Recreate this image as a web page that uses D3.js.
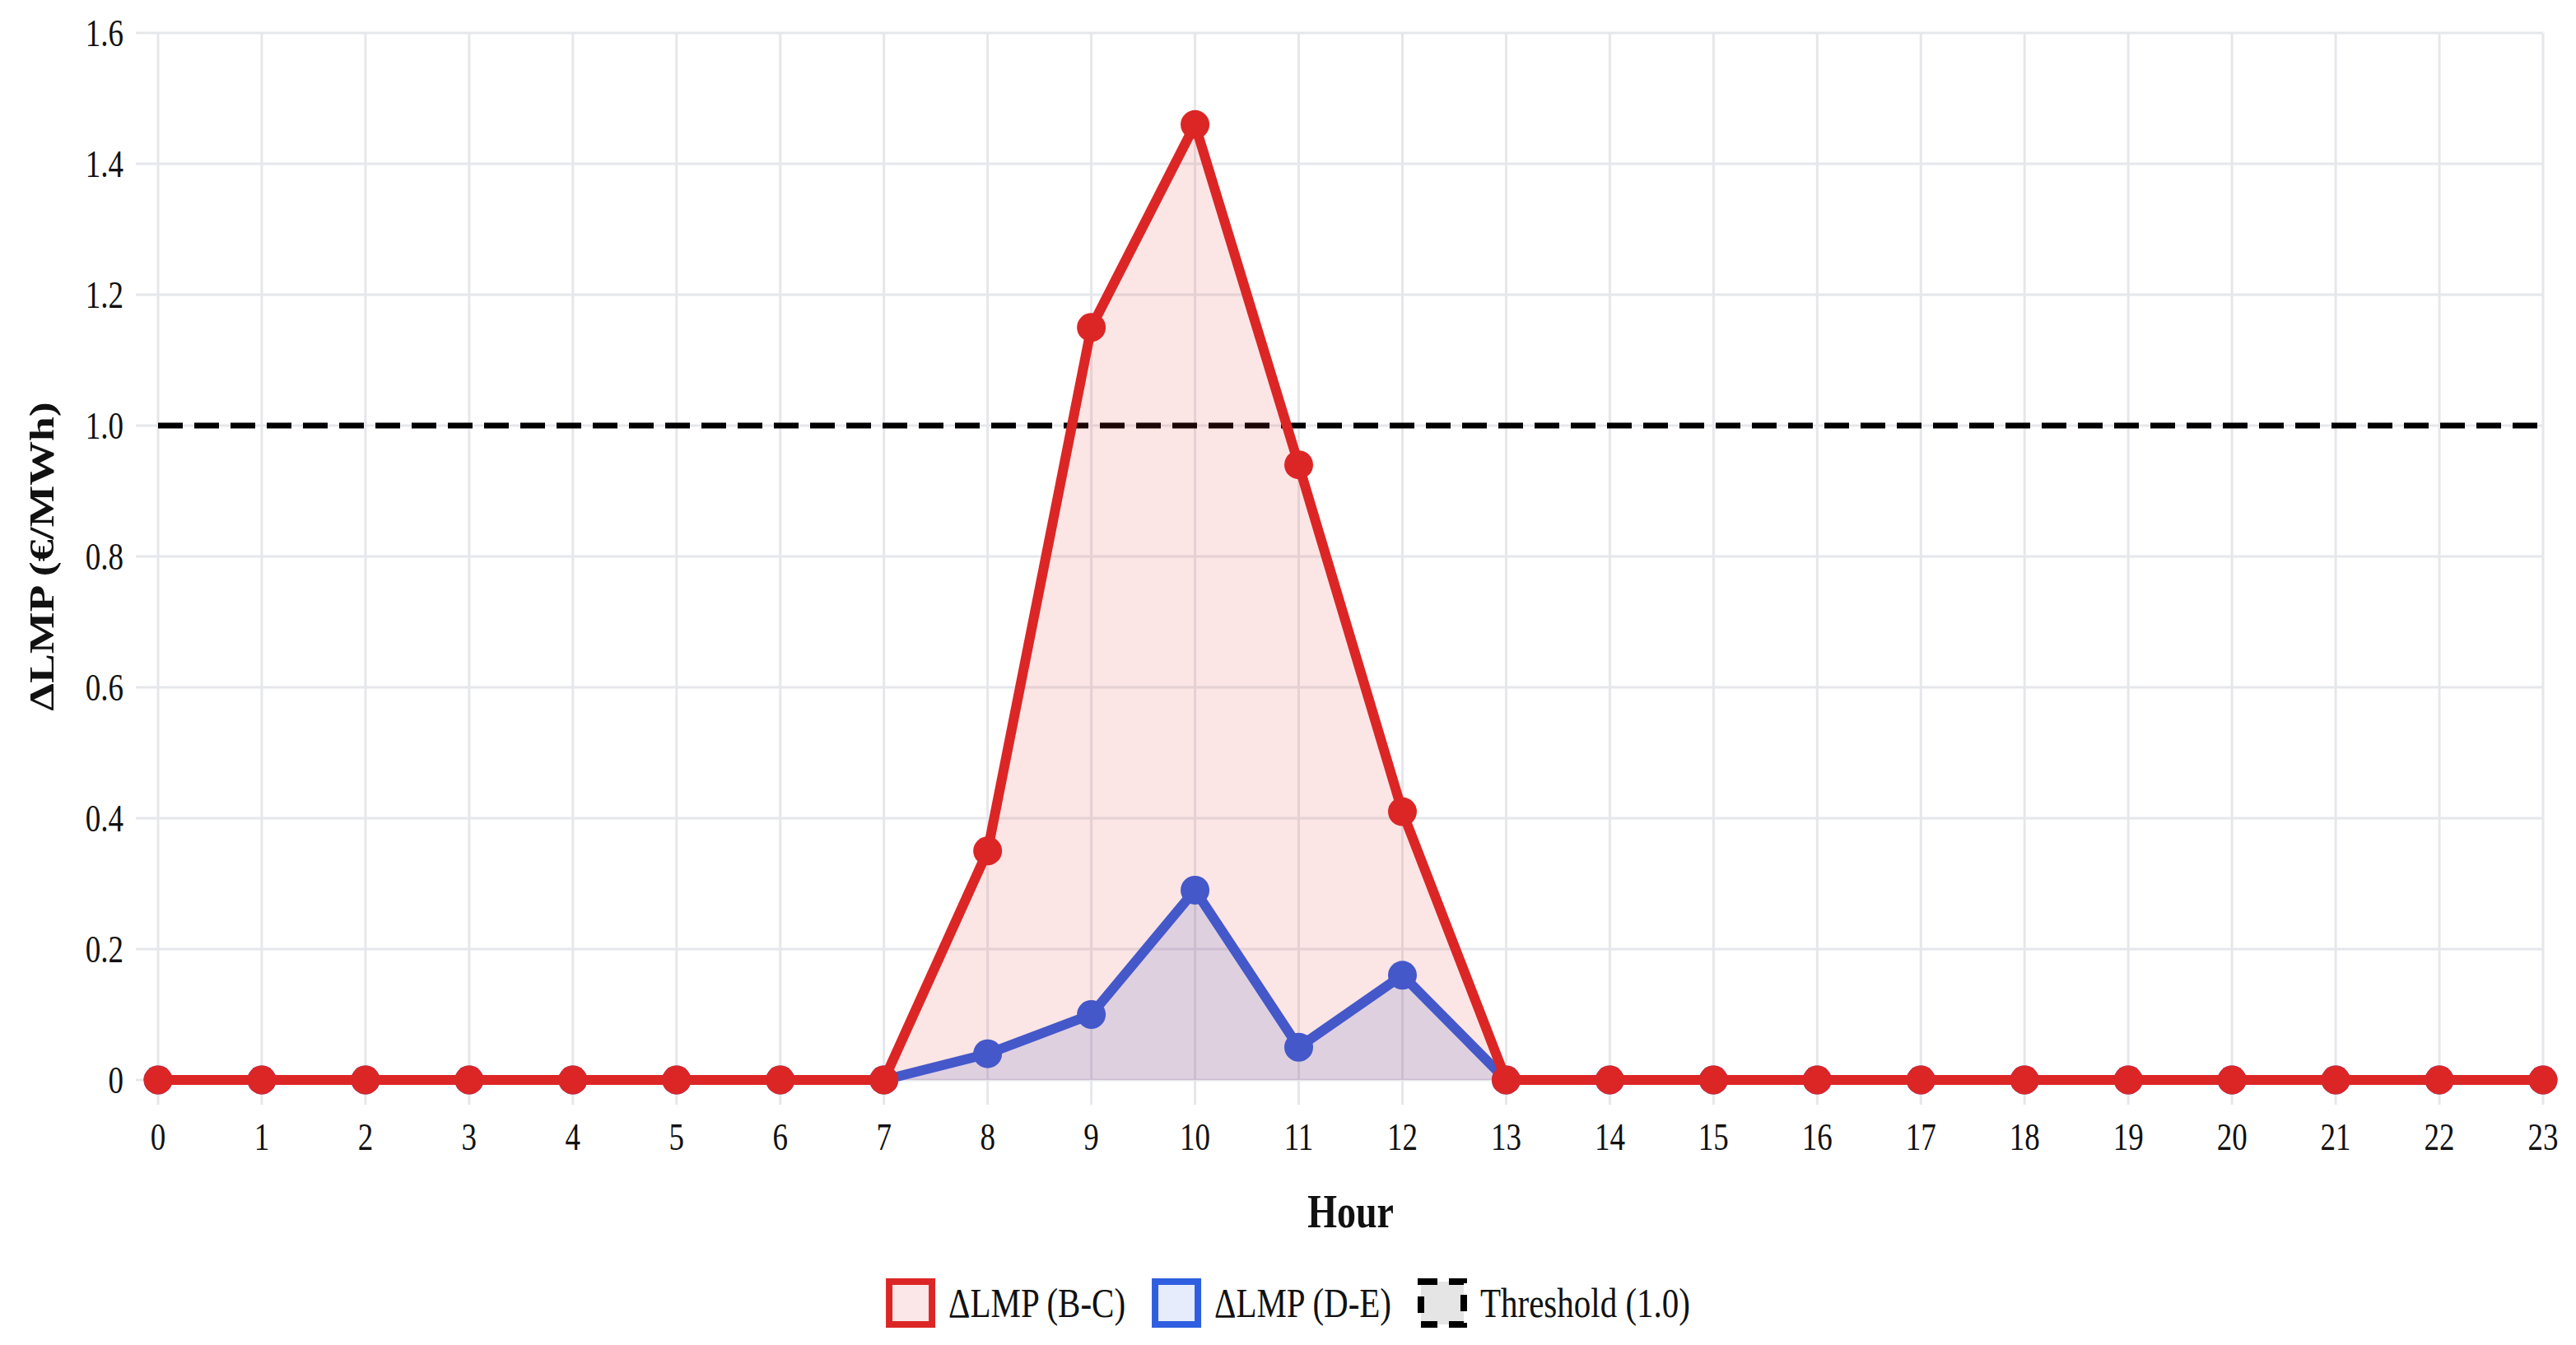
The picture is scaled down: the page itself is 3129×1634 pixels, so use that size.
<!DOCTYPE html>
<html><head><meta charset="utf-8">
<script src="https://cdn.jsdelivr.net/npm/d3@7"></script>
<style>
html,body{margin:0;padding:0;background:#fff;}
svg{display:block;}
text{font-family:"Liberation Serif","Times New Roman",serif;fill:#111;}
</style></head>
<body>
<svg id="chart" width="3129" height="1634"></svg>
<script>
const hours = [0,1,2,3,4,5,6,7,8,9,10,11,12,13,14,15,16,17,18,19,20,21,22,23];
const lmpBC = [0,0,0,0,0,0,0,0,0.35,1.15,1.46,0.94,0.41,0,0,0,0,0,0,0,0,0,0,0];
const lmpDE = [0,0,0,0,0,0,0,0,0.04,0.10,0.29,0.05,0.16,0,0,0,0,0,0,0,0,0,0,0];
const thresholdValue = 1.0;
const yTicks = [0,0.2,0.4,0.6,0.8,1.0,1.2,1.4,1.6];
const yTickLabels = ["0","0.2","0.4","0.6","0.8","1.0","1.2","1.4","1.6"];
const seriesNames = ["\u0394LMP (B-C)","\u0394LMP (D-E)","Threshold (1.0)"];
const xTitle = "Hour";
const yTitle = "\u0394LMP (\u20AC/MWh)";

const W = 3129, H = 1634;
const SY = 1.25; // vertical stretch of text
const m = {left:192, right:W-3089, top:40, bottom:H-1312};
const svg = d3.select("#chart");
const x = d3.scaleLinear().domain([0,23]).range([m.left, W-m.right]);
const y = d3.scaleLinear().domain([0,1.6]).range([H-m.bottom, m.top]);

const red = "#dc2626", blue = "#2f5fe0";
const grid = "#e6e7eb";

// grid
const g = svg.append("g");
g.selectAll("line.h").data(yTicks).join("line")
  .attr("x1", m.left-27).attr("x2", W-m.right)
  .attr("y1", d=>y(d)).attr("y2", d=>y(d))
  .attr("stroke", grid).attr("stroke-width", 3);
g.selectAll("line.v").data(hours).join("line")
  .attr("x1", d=>x(d)).attr("x2", d=>x(d))
  .attr("y1", m.top).attr("y2", H-m.bottom+30)
  .attr("stroke", grid).attr("stroke-width", 3);

// tick labels
svg.append("g").selectAll("text").data(yTicks).join("text")
  .attr("transform", d=>`translate(${m.left-42},${y(d)}) scale(1,${SY})`)
  .attr("text-anchor","end").attr("dy","0.34em")
  .style("font-size","37px")
  .text((d,i)=>yTickLabels[i]);
svg.append("g").selectAll("text").data(hours).join("text")
  .attr("transform", d=>`translate(${x(d)},${H-m.bottom+69}) scale(1,${SY})`)
  .attr("text-anchor","middle").attr("dy","0.34em")
  .style("font-size","37px")
  .text(d=>d);

// titles
svg.append("text")
  .attr("transform", `translate(${(m.left+W-m.right)/2},${1471}) scale(1,${SY})`)
  .attr("text-anchor","middle").attr("dy","0.34em")
  .style("font-size","46px").style("font-weight","bold")
  .text(xTitle);
svg.append("text")
  .attr("transform", `translate(50,${(m.top+H-m.bottom)/2}) scale(1,${SY}) rotate(-90)`)
  .attr("text-anchor","middle").attr("dy","0.34em")
  .style("font-size","43px").style("font-weight","bold")
  .text(yTitle);

// threshold
svg.append("line")
  .attr("x1", x(0)).attr("x2", x(23))
  .attr("y1", y(thresholdValue)).attr("y2", y(thresholdValue))
  .attr("stroke","#000").attr("stroke-width",7)
  .attr("stroke-dasharray","30,14");

const area = d3.area().x((d,i)=>x(hours[i])).y0(y(0)).y1(d=>y(d));
const line = d3.line().x((d,i)=>x(hours[i])).y(d=>y(d));

function drawSeries(vals, color, fill) {
  svg.append("path").attr("d", area(vals)).attr("fill", fill);
  svg.append("path").attr("d", line(vals)).attr("fill","none")
    .attr("stroke", color).attr("stroke-width", 12).attr("stroke-linejoin","round");
  svg.append("g").selectAll("circle").data(vals).join("circle")
    .attr("cx",(d,i)=>x(hours[i])).attr("cy", d=>y(d)).attr("r",17.5)
    .attr("fill", color);
}
drawSeries(lmpDE, blue, "rgba(47,95,224,0.15)");
drawSeries(lmpBC, red, "rgba(220,38,38,0.12)");

// legend
const legendItems = [
  {name:seriesNames[0], stroke:red, fill:"#fbe7e7", dash:null},
  {name:seriesNames[1], stroke:blue, fill:"#e6ecfb", dash:null},
  {name:seriesNames[2], stroke:"#000", fill:"#e5e5e5", dash:"20,14"}
];
const lg = svg.append("g");
const boxW = 60, boxH = 52, gapBT = 16, gapItem = 32, lgY = 1583;
let items = legendItems.map(it=>{
  const gi = lg.append("g");
  gi.append("rect").attr("x",4).attr("y",-boxH/2).attr("width",boxW-8).attr("height",boxH)
    .attr("fill",it.fill).attr("stroke",it.stroke).attr("stroke-width",8)
    .attr("stroke-dasharray", it.dash);
  const t = gi.append("text").attr("transform",`translate(${boxW+gapBT},0) scale(1,${SY})`)
    .attr("dy","0.34em").style("font-size","41px").text(it.name);
  const w = boxW + gapBT + t.node().getComputedTextLength();
  return {gi, w};
});
const total = d3.sum(items, d=>d.w) + gapItem*(items.length-1);
let cx = W/2 - total/2;
items.forEach(it=>{ it.gi.attr("transform",`translate(${cx},${lgY})`); cx += it.w + gapItem; });
</script>
</body></html>
